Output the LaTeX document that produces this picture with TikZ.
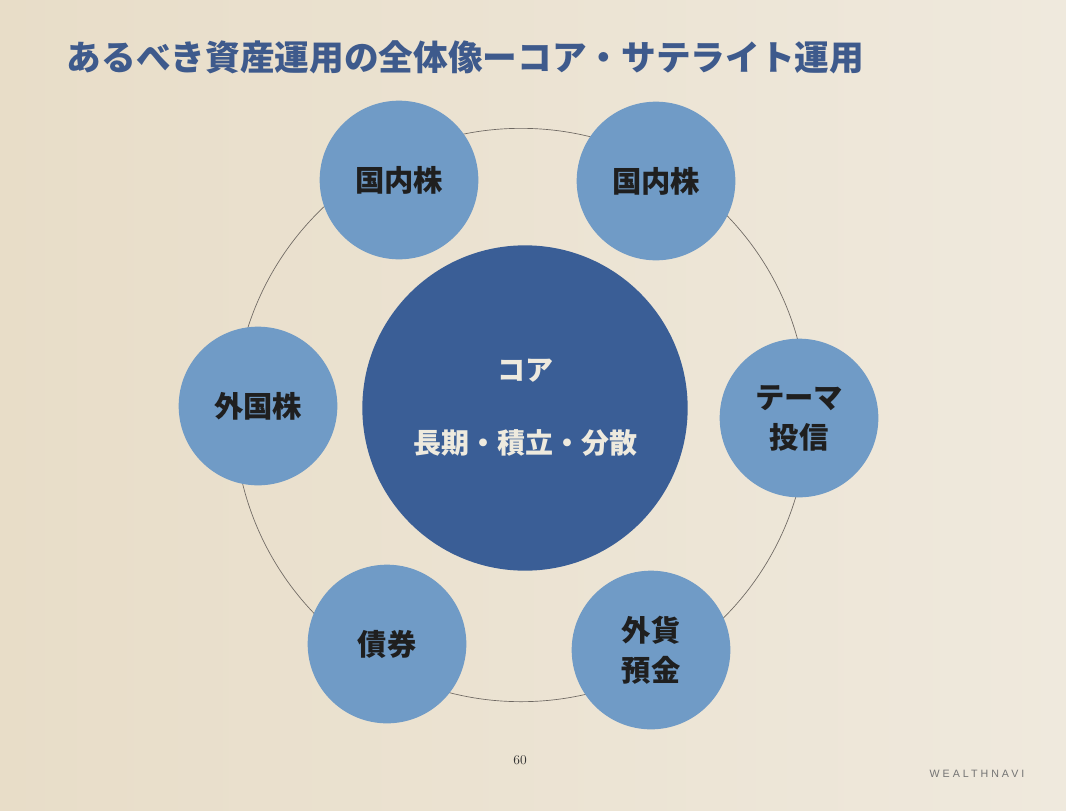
\documentclass[tikz,border=0pt]{standalone}
\usepackage{fontspec}
\newfontfamily\jpfont{Noto Sans CJK JP}
\newfontfamily\navifont{Liberation Sans}[LetterSpace=28]
\definecolor{paperL}{RGB}{232,221,200}
\definecolor{paperR}{RGB}{239,233,221}
\definecolor{titleblue}{RGB}{62,90,140}
\definecolor{coreblue}{RGB}{58,94,150}
\definecolor{satblue}{RGB}{112,155,198}
\definecolor{ringgray}{RGB}{110,104,98}
\definecolor{coretext}{RGB}{238,234,222}

\begin{document}
\begin{tikzpicture}[x=0.75pt,y=-0.75pt,
		sat/.style={circle,fill=satblue,minimum size=119pt,inner sep=0pt,align=center,
			text=black!88,font=\jpfont\bfseries\fontsize{22}{30}\selectfont},
		core/.style={circle,fill=coreblue,minimum size=244pt,inner sep=0pt,align=center,
			text=coretext,font=\jpfont\bfseries\fontsize{21}{25}\selectfont},
		ring/.style={draw=ringgray,line width=0.5pt}]
		\shade[left color=paperL,right color=paperR] (0,0) rectangle (1066,810);
		\useasboundingbox (0,0) rectangle (1066,810);
		
		\node[anchor=west,text=titleblue,font=\jpfont\bfseries\fontsize{26}{30}\selectfont] (title) at (62,57) {あるべき資産運用の全体像ーコア・サテライト運用};
		
		\coordinate (hub) at (521,415);
		\draw[ring] (hub) circle[radius=215pt];
		
		\node[core] (core) at (525,408) {コア\\[30pt]長期・積立・分散};
		
		\node[sat] (domA) at (399,180) {国内株};
		\node[sat] (domB) at (656,181) {国内株};
		\node[sat] (forstock) at (258,406) {外国株};
		\node[sat] (theme) at (799,418) {テーマ\\投信};
		\node[sat] (bond) at (387,644) {債券};
		\node[sat] (deposit) at (651,650) {外貨\\預金};
		
		\node[text=black!80,font=\fontsize{10}{12}\selectfont] (page) at (520,760) {60};
		\node[text=black!55,font=\navifont\fontsize{8}{10}\selectfont] (brand) at (977,774) {WEALTHNAVI};
\end{tikzpicture}
\end{document}
